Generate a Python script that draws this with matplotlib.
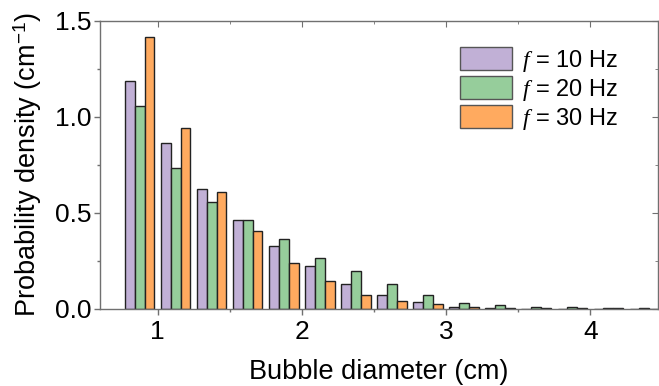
import numpy as np
import matplotlib
matplotlib.use("Agg")
import matplotlib.pyplot as plt
from matplotlib.ticker import MultipleLocator

plt.rcParams['font.family'] = ['Liberation Sans', 'DejaVu Sans']
plt.rcParams['mathtext.fontset'] = 'custom'
plt.rcParams['mathtext.rm'] = 'Liberation Sans'
plt.rcParams['mathtext.it'] = 'Liberation Serif:italic'

# Bin centers (cm)
bin_centers = [0.875, 1.125, 1.375, 1.625, 1.875, 2.125, 2.375, 2.625,
               2.875, 3.125, 3.375, 3.625, 3.875, 4.125, 4.375]
f10 = [1.188, 0.862, 0.624, 0.461, 0.326, 0.224, 0.130, 0.071,
       0.035, 0.012, 0.004, 0.002, 0.002, 0.002, 0.001]
f20 = [1.056, 0.735, 0.558, 0.461, 0.366, 0.267, 0.198, 0.132,
       0.073, 0.032, 0.020, 0.013, 0.009, 0.005, 0.003]
f30 = [1.414, 0.940, 0.610, 0.404, 0.241, 0.146, 0.071, 0.042,
       0.024, 0.010, 0.006, 0.003, 0.003, 0.003, 0.002]
labels = ['$f$ = 10 Hz', '$f$ = 20 Hz', '$f$ = 30 Hz']
colors = ['#C1B0D6', '#96CD9B', '#FFAA5F']

fig = plt.figure(figsize=(6.59, 3.86), dpi=100)
ax = fig.add_axes([100/659, 1-309/386, 558/659, (309-20.7)/386])

x = np.array(bin_centers)
w = 0.068
for i, (vals, lab, col) in enumerate(zip([f10, f20, f30], labels, colors)):
    ax.bar(x + (i-1)*w, vals, width=w, color=col, edgecolor='#222222',
           linewidth=1.0, label=lab)

ax.set_xlim(0.6, 4.47)
ax.set_ylim(0, 1.5)
ax.xaxis.set_major_locator(MultipleLocator(1))
ax.xaxis.set_minor_locator(MultipleLocator(0.5))
ax.yaxis.set_major_locator(MultipleLocator(0.5))
ax.yaxis.set_minor_locator(MultipleLocator(0.25))
ax.yaxis.set_major_formatter(matplotlib.ticker.FormatStrFormatter('%.1f'))

for s in ax.spines.values():
    s.set_color('#707070')
    s.set_linewidth(1.0)

ax.tick_params(which='both', direction='out', color='#707070', labelsize=19,
               top=False, right=False)
ax.tick_params(which='major', length=4, width=1, pad=2)
ax.tick_params(which='minor', length=2.5, width=1)
ax.tick_params(axis='x', which='major', pad=4)

secx = ax.secondary_xaxis('top')
secx.xaxis.set_major_locator(MultipleLocator(1))
secx.xaxis.set_minor_locator(MultipleLocator(0.5))
secx.tick_params(which='both', direction='in', color='#707070', labeltop=False)
secx.tick_params(which='major', length=4)
secx.tick_params(which='minor', length=2.5)
secx.spines['top'].set_visible(False)
secy = ax.secondary_yaxis('right')
secy.yaxis.set_major_locator(MultipleLocator(0.5))
secy.yaxis.set_minor_locator(MultipleLocator(0.25))
secy.tick_params(which='both', direction='in', color='#707070', labelright=False)
secy.tick_params(which='major', length=4)
secy.tick_params(which='minor', length=2.5)
secy.spines['right'].set_visible(False)

ax.set_xlabel('Bubble diameter (cm)', fontsize=19.5, labelpad=11)
ax.set_ylabel('Probability density (cm$^{-1}$)', fontsize=19.5, labelpad=8)

leg = ax.legend(loc='upper left', bbox_to_anchor=(460/659, 1-47.3/386),
                bbox_transform=fig.transFigure, frameon=False, fontsize=17,
                handlelength=2.2, handleheight=1.1, labelspacing=0.11,
                handletextpad=0.42, borderpad=0, borderaxespad=0)
for p in leg.get_patches():
    p.set_edgecolor('#555555')

fig.savefig('out.png', dpi=100)
